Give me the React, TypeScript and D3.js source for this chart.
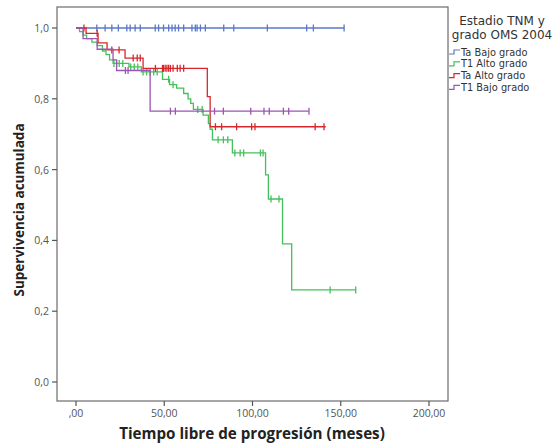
import React from 'react'
import * as d3 from 'd3'

// Kaplan-Meier curves: step times (months), survival after each step, censor times
const taBajoTimes = [0]
const taBajoSurv = [1]
const taBajoEnd = 152
const taBajoCensor = [11.8, 16.5, 20.3, 24, 28.8, 30.7, 33.5, 36.4, 44.9, 46.8, 49.6, 52.5, 54.4, 56.2, 58.1, 61, 65.7, 67.6, 68.6, 70.5, 73.3, 83.7, 89.4, 108.4, 130.7, 134.5, 151.9]

const t1AltoTimes = [0, 2, 4, 6, 9, 12, 15, 17, 19, 21, 30, 37, 49, 53, 57, 61, 63.5, 65, 66.5, 72, 75, 76, 77.3, 88.6, 107.4, 109, 117, 122.2]
const t1AltoSurv = [1, 0.99, 0.98, 0.97, 0.96, 0.95, 0.935, 0.925, 0.91, 0.9, 0.89, 0.876, 0.855, 0.84, 0.83, 0.815, 0.8, 0.787, 0.77, 0.754, 0.73, 0.714, 0.684, 0.647, 0.585, 0.517, 0.39, 0.26]
const t1AltoEnd = 158.5
const t1AltoCensor = [21.5, 23, 24.5, 26.5, 31, 33, 35, 38, 40, 42, 44, 46, 52.5, 55, 69, 71.5, 80.5, 83.5, 86, 90, 93, 95, 104.5, 106, 110.5, 115, 144, 158.5]

const taAltoTimes = [0, 5.7, 12.5, 17.6, 27.8, 38, 74.4, 76]
const taAltoSurv = [1, 0.985, 0.958, 0.938, 0.915, 0.886, 0.806, 0.721]
const taAltoEnd = 141.5
const taAltoCensor = [4.5, 12, 20.3, 24.4, 32.4, 34.7, 36.4, 45, 49, 49.5, 50.5, 51.5, 52.5, 53.5, 55, 57.4, 59, 61, 79, 82.5, 91, 99.5, 101.4, 135.5, 140.5]

const t1BajoTimes = [0, 4, 12, 21, 23, 42]
const t1BajoSurv = [1, 0.97, 0.94, 0.91, 0.88, 0.765]
const t1BajoEnd = 132
const t1BajoCensor = [28, 29.5, 53.5, 56.3, 78.5, 83.5, 99, 106.5, 109.5, 117.5, 120.5, 132]

const groupNames = ['Ta Bajo grado', 'T1 Alto grado', 'Ta Alto grado', 'T1 Bajo grado']
const groupColors = ['#5a78c6', '#45c05c', '#d8262d', '#9b55b5']

const xTicks = [0, 50, 100, 150, 200]
const xTickLabels = [',00', '50,00', '100,00', '150,00', '200,00']
const yTicks = [0, 0.2, 0.4, 0.6, 0.8, 1]
const yTickLabels = ['0,0', '0,2', '0,4', '0,6', '0,8', '1,0']

const series = [
  { times: taBajoTimes, surv: taBajoSurv, end: taBajoEnd, censor: taBajoCensor },
  { times: t1AltoTimes, surv: t1AltoSurv, end: t1AltoEnd, censor: t1AltoCensor },
  { times: taAltoTimes, surv: taAltoSurv, end: taAltoEnd, censor: taAltoCensor },
  { times: t1BajoTimes, surv: t1BajoSurv, end: t1BajoEnd, censor: t1BajoCensor },
]

const W = 556
const H = 448
const frame = { left: 57, top: 7, right: 448, bottom: 401 }
const font = '"Open Sans", "DejaVu Sans", sans-serif'
const legendFont = '"DejaVu Sans", sans-serif'

export default function App() {
  const x = d3.scaleLinear().domain([0, 200]).range([76, 429])
  const y = d3.scaleLinear().domain([0, 1]).range([382, 28])

  const line = d3.line<[number, number]>()
    .x(d => x(d[0]))
    .y(d => y(d[1]))
    .curve(d3.curveStepAfter)

  const survAt = (s: typeof series[0], t: number) => {
    let v = s.surv[0]
    s.times.forEach((tt, i) => { if (tt <= t) v = s.surv[i] })
    return v
  }

  return (
    <svg width={W} height={H} style={{ display: 'block', position: 'absolute', left: 0, top: 0, background: '#fff' }}>
      <rect x={frame.left} y={frame.top} width={frame.right - frame.left} height={frame.bottom - frame.top}
        fill="none" stroke="#6b6b6b" strokeWidth={1.2} />

      {/* y axis */}
      {yTicks.map((v, i) => (
        <g key={'y' + i}>
          <line x1={frame.left - 5} x2={frame.left} y1={y(v)} y2={y(v)} stroke="#555" strokeWidth={1.2} />
          <text x={frame.left - 8} y={y(v) + 4} textAnchor="end" fontSize={10.5} fill="#555" fontFamily={font}>{yTickLabels[i]}</text>
        </g>
      ))}
      {/* x axis */}
      {xTicks.map((v, i) => (
        <g key={'x' + i}>
          <line x1={x(v)} x2={x(v)} y1={frame.bottom} y2={frame.bottom + 5} stroke="#555" strokeWidth={1.2} />
          <text x={x(v)} y={frame.bottom + 16} textAnchor="middle" fontSize={10.5} fill="#555" fontFamily={font}>{xTickLabels[i]}</text>
        </g>
      ))}

      <text x={252} y={439} textAnchor="middle" fontSize={15.2} fontWeight="bold" fill="#222" fontFamily={font}>
        Tiempo libre de progresión (meses)
      </text>
      <text transform="translate(24,210) rotate(-90)" textAnchor="middle" fontSize={13.5} fontWeight="bold" fill="#222" fontFamily={font}>
        Supervivencia acumulada
      </text>

      {/* curves */}
      {series.map((s, i) => {
        const pts: [number, number][] = s.times.map((t, j) => [t, s.surv[j]] as [number, number])
        pts.push([s.end, s.surv[s.surv.length - 1]])
        return (
          <g key={'s' + i}>
            <path d={line(pts) || ''} fill="none" stroke={groupColors[i]} strokeWidth={1.3} />
            {s.censor.map((c, k) => {
              const cy = y(survAt(s, c))
              return <line key={k} x1={x(c)} x2={x(c)} y1={cy - 3.5} y2={cy + 3.5} stroke={groupColors[i]} strokeWidth={1.3} />
            })}
          </g>
        )
      })}

      {/* legend */}
      <text x={502} y={24.5} textAnchor="middle" fontSize={12} fill="#333" fontFamily={legendFont}>Estadio TNM y</text>
      <text x={502} y={38.8} textAnchor="middle" fontSize={12} fill="#333" fontFamily={legendFont}>grado OMS 2004</text>
      {groupNames.map((g, i) => {
        const cy = 52 + i * 11.8
        return (
          <g key={'l' + i}>
            <path d={`M449,${cy + 2}H454V${cy - 2}H460`} fill="none" stroke={groupColors[i]} strokeWidth={1.2} />
            <text x={461} y={cy + 3.6} fontSize={9.8} fill="#333" fontFamily={legendFont}>{g}</text>
          </g>
        )
      })}
    </svg>
  )
}
